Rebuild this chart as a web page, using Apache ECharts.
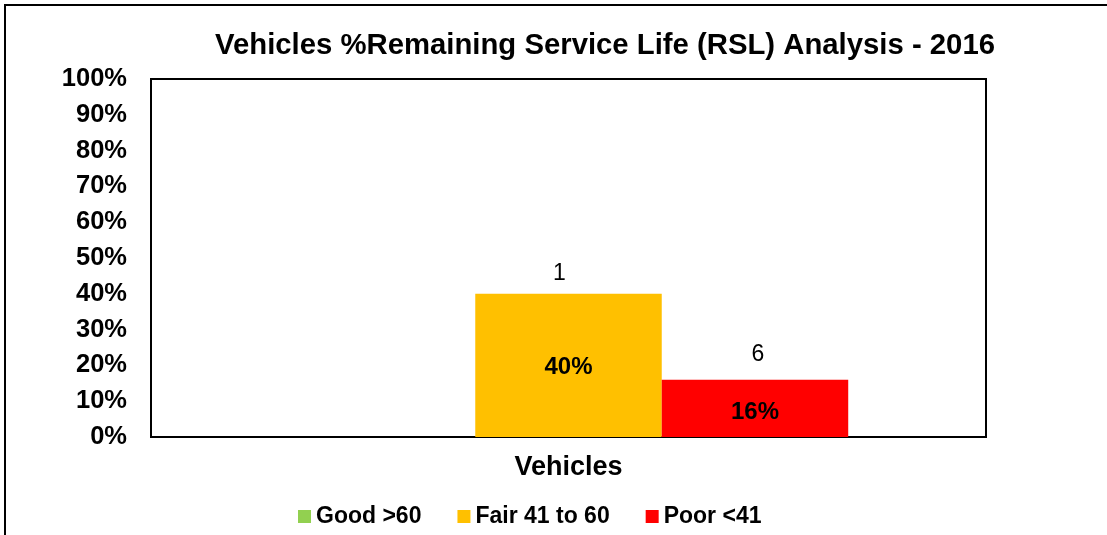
<!DOCTYPE html>
<html>
<head>
<meta charset="utf-8">
<script src="https://cdn.jsdelivr.net/npm/echarts@6/dist/echarts.min.js"></script>
<style>
html,body{margin:0;padding:0;background:#fff;}
#c{width:1107px;height:535px;}
</style>
</head>
<body>
<div id="c"></div>
<script>
const categories = ['Vehicles'];
const seriesNames = ['Good >60', 'Fair 41 to 60', 'Poor <41'];
const percentValues = [0, 40, 16];
const countValues = [null, 1, 6];
const seriesColors = ['#92D050', '#FFC000', '#FF0000'];
const titleText = 'Vehicles %Remaining Service Life (RSL) Analysis - 2016';

const FONT = 'Liberation Sans, Arial, sans-serif';
const countLabelOffsets = [[0, 0], [-9, -1], [3, -6]];
const pctLabelOffsets = [[0, 0], [0, 2], [0, 4]];
const chart = echarts.init(document.getElementById('c'));

const mainSeries = seriesNames.map((name, i) => ({
  name: name,
  type: 'bar',
  xAxisIndex: 0,
  yAxisIndex: 0,
  barGap: '0%',
  barCategoryGap: '33%',
  data: [percentValues[i]],
  itemStyle: { color: seriesColors[i] },
  label: {
    show: percentValues[i] > 0,
    position: 'inside',
    offset: pctLabelOffsets[i],
    formatter: '{c}%',
    fontFamily: FONT,
    fontWeight: 'bold',
    fontSize: 24,
    color: '#000'
  },
  silent: true
}));

const countSeries = seriesNames.map((name, i) => ({
  name: name + ' count',
  type: 'bar',
  xAxisIndex: 1,
  yAxisIndex: 0,
  barGap: '0%',
  barCategoryGap: '33%',
  data: [percentValues[i]],
  itemStyle: { color: 'rgba(0,0,0,0)' },
  label: {
    show: countValues[i] !== null,
    position: 'top',
    distance: 8,
    offset: countLabelOffsets[i],
    formatter: () => String(countValues[i]),
    fontFamily: FONT,
    fontSize: 23,
    color: '#000'
  },
  silent: true,
  z: 5
}));

chart.setOption({
  animation: false,
  backgroundColor: '#fff',
  graphic: [{
    type: 'rect',
    shape: { x: 5, y: 5, width: 1300, height: 700 },
    style: { fill: 'none', stroke: '#000', lineWidth: 2 },
    silent: true
  }],
  title: {
    text: titleText,
    left: 600,
    top: 26,
    textAlign: 'center',
    textStyle: { fontFamily: FONT, fontWeight: 'bold', fontSize: 29.3, color: '#000' }
  },
  legend: {
    data: seriesNames,
    left: 293,
    top: 500,
    itemWidth: 13,
    itemHeight: 13,
    itemGap: 36,
    icon: 'rect',
    textStyle: { fontFamily: FONT, fontWeight: 'bold', fontSize: 23, color: '#000' }
  },
  grid: {
    left: 151, right: 121, top: 79, bottom: 98,
    show: true, borderColor: '#000', borderWidth: 2, backgroundColor: '#fff'
  },
  xAxis: [{
    type: 'category',
    data: categories,
    axisTick: { show: false },
    axisLine: { lineStyle: { color: '#000', width: 2 } },
    axisLabel: { fontFamily: FONT, fontWeight: 'bold', fontSize: 27, color: '#000', margin: 17 }
  }, {
    type: 'category',
    data: categories,
    show: false
  }],
  yAxis: [{
    type: 'value',
    min: 0, max: 100, interval: 10,
    splitLine: { show: false },
    axisTick: { show: false },
    axisLine: { show: true, lineStyle: { color: '#000', width: 2 } },
    axisLabel: { formatter: '{value}%', fontFamily: FONT, fontWeight: 'bold', fontSize: 25.5, color: '#000', margin: 24 }
  }],
  series: mainSeries.concat(countSeries)
});
</script>
</body>
</html>
